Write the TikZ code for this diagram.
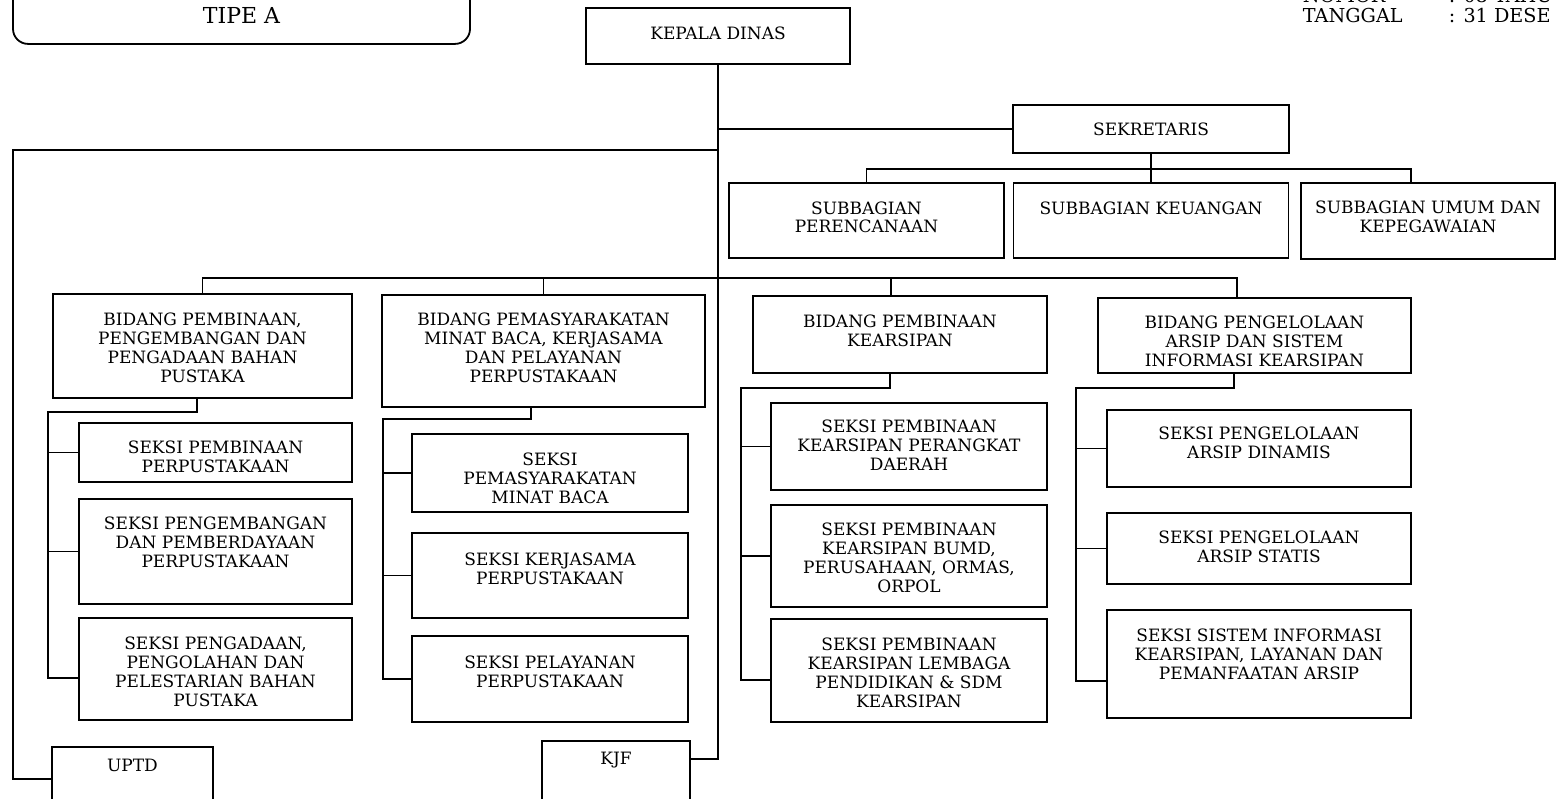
\documentclass[tikz,border=0pt]{standalone}
\usepackage{fontspec}
\setmainfont{DejaVu Serif}
\usetikzlibrary{positioning, calc}

\begin{document}
\begin{tikzpicture}[
        x = 0.5pt, y = -0.5pt,
        line width = 0.9pt,
        box/.style = {draw, rectangle, anchor=north, align=center, inner sep=0pt, font=\fontsize{8.5}{9.4}\selectfont},
        hdr/.style = {anchor=base west, inner sep=0pt, font=\fontsize{9.6}{11}\selectfont},
    ]
        \useasboundingbox (0,0) rectangle (1562,798);
        \clip (0,0) rectangle (1562,798);

        %---- top ----
        \node[box, rounded corners=7.5pt, minimum width=228.5pt, text height=31.5pt, text depth=10pt, font=\fontsize{11}{13}\selectfont] (tipe) at (241.5,-40) {TIPE A};
        \node[box, minimum width=132pt, text height=16pt, text depth=12pt] (kd) at (718,7) {KEPALA DINAS};
        \node[hdr] (nomor) at (1302,2) {NOMOR};
        \node[hdr] (nomorv) at (1448,2) {: 08 TAHU};
        \node[hdr] (tgl) at (1302,22) {TANGGAL};
        \node[hdr] (tglv) at (1448,22) {: 31 DESE};

        %---- sekretariat ----
        \node[box, minimum width=138pt, text height=15.5pt, text depth=8.5pt] (sekr) at (1151,104) {SEKRETARIS};
        \node[box, minimum width=137.5pt, text height=25pt, text depth=12.6pt] (sbp) at (866.5,182) {SUBBAGIAN\\PERENCANAAN};
        \node[box, minimum width=137.5pt, text height=16pt, text depth=21.5pt] (sbk) at (1151,182) {SUBBAGIAN KEUANGAN};
        \node[box, minimum width=127pt, text height=24.9pt, text depth=13.1pt] (sbu) at (1428,182) {SUBBAGIAN UMUM DAN\\KEPEGAWAIAN};

        %---- bidang ----
        \node[box, minimum width=149.5pt, text height=44.2pt, text depth=7.8pt] (bd1) at (202.5,293) {BIDANG PEMBINAAN,\\PENGEMBANGAN DAN\\PENGADAAN BAHAN\\PUSTAKA};
        \node[box, minimum width=161.5pt, text height=43.7pt, text depth=12.3pt] (bd2) at (543.5,294) {BIDANG PEMASYARAKATAN\\MINAT BACA, KERJASAMA\\DAN PELAYANAN\\PERPUSTAKAAN};
        \node[box, minimum width=147pt, text height=25.4pt, text depth=13.1pt] (bd3) at (900,295) {BIDANG PEMBINAAN\\KEARSIPAN};
        \node[box, minimum width=156.5pt, text height=34.3pt, text depth=3.2pt] (bd4) at (1254.5,297) {BIDANG PENGELOLAAN\\ARSIP DAN SISTEM\\INFORMASI KEARSIPAN};

        %---- seksi perpustakaan ----
        \node[box, minimum width=136.5pt, text height=24.9pt, text depth=4.6pt] (s11) at (215.5,422) {SEKSI PEMBINAAN\\PERPUSTAKAAN};
        \node[box, minimum width=136.5pt, text height=34.3pt, text depth=18.2pt] (s12) at (215.5,498) {SEKSI PENGEMBANGAN\\DAN PEMBERDAYAAN\\PERPUSTAKAAN};
        \node[box, minimum width=136.5pt, text height=44.2pt, text depth=6.8pt] (s13) at (215.5,617) {SEKSI PENGADAAN,\\PENGOLAHAN DAN\\PELESTARIAN BAHAN\\PUSTAKA};

        \node[box, minimum width=138pt, text height=34.8pt, text depth=4.2pt] (s21) at (550,433) {SEKSI\\PEMASYARAKATAN\\MINAT BACA};
        \node[box, minimum width=138pt, text height=25.9pt, text depth=16.6pt] (s22) at (550,532) {SEKSI KERJASAMA\\PERPUSTAKAAN};
        \node[box, minimum width=138pt, text height=25.9pt, text depth=17.1pt] (s23) at (550,635) {SEKSI PELAYANAN\\PERPUSTAKAAN};

        %---- seksi kearsipan ----
        \node[box, minimum width=138pt, text height=33.8pt, text depth=9.7pt] (s31) at (909,402) {SEKSI PEMBINAAN\\KEARSIPAN PERANGKAT\\DAERAH};
        \node[box, minimum width=138pt, text height=43.7pt, text depth=7.3pt] (s32) at (909,504) {SEKSI PEMBINAAN\\KEARSIPAN BUMD,\\PERUSAHAAN, ORMAS,\\ORPOL};
        \node[box, minimum width=138pt, text height=44.2pt, text depth=7.3pt] (s33) at (909,618) {SEKSI PEMBINAAN\\KEARSIPAN LEMBAGA\\PENDIDIKAN \& SDM\\KEARSIPAN};

        \node[box, minimum width=152pt, text height=24.4pt, text depth=14.1pt] (s41) at (1259,409) {SEKSI PENGELOLAAN\\ARSIP DINAMIS};
        \node[box, minimum width=152pt, text height=24.9pt, text depth=10.6pt] (s42) at (1259,512) {SEKSI PENGELOLAAN\\ARSIP STATIS};
        \node[box, minimum width=152pt, text height=34.8pt, text depth=19.2pt] (s43) at (1259,609) {SEKSI SISTEM INFORMASI\\KEARSIPAN, LAYANAN DAN\\PEMANFAATAN ARSIP};

        %---- uptd / kjf ----
        \node[box, minimum width=80.5pt, text height=12.5pt, text depth=19.5pt] (uptd) at (132.5,746) {UPTD};
        \node[box, minimum width=74pt, text height=12pt, text depth=33pt] (kjf) at (616,740) {KJF};

        %---- garis komando ----
        \coordinate (lft) at (13,150);
        \coordinate (sbus) at (0,169);
        \coordinate (bbus) at (0,278);
        \coordinate (sbu-in) at ([xshift=-8.5pt]sbu.north);
        \coordinate (bd3-in) at ([xshift=-4.5pt]bd3.north);
        \coordinate (bd4-in) at ([xshift=-8.75pt]bd4.north);

        \draw (kd.south) |- ([yshift=13.5pt]kjf.east);
        \draw (kd.south |- lft) -- (lft) |- (uptd.west);
        \draw (kd.south |- sekr.west) -- (sekr.west);
        \draw (sekr.south) -- (sbk.north);
        \draw (sbp.north) |- (sbu-in |- sbus) -- (sbu-in);
        \draw (bd1.north) |- (bd4-in |- bbus) -- (bd4-in);
        \draw (bd2.north) -- (bd2.north |- bbus);
        \draw (bd3-in) -- (bd3-in |- bbus);

        %---- kolom seksi ----
        \coordinate (c1) at (48,412);
        \coordinate (c2) at (383,419);
        \coordinate (c3) at (741,388);
        \coordinate (c4) at (1076,388);

        \draw ([xshift=-2.75pt]bd1.south) |- (c1) |- ([yshift=-4.5pt]s13.west);
        \draw (c1 |- s11.west) -- (s11.west);
        \draw (c1 |- s12.west) -- (s12.west);

        \draw ([xshift=-6.25pt]bd2.south) |- (c2) |- (s23.west);
        \draw (c2 |- s21.west) -- (s21.west);
        \draw (c2 |- s22.west) -- (s22.west);

        \draw ([xshift=-5pt]bd3.south) |- (c3) |- ([yshift=-4.75pt]s33.west);
        \draw (c3 |- s31.west) -- (s31.west);
        \draw (c3 |- s32.west) -- (s32.west);

        \draw ([xshift=-10.25pt]bd4.south) |- (c4) |- ([yshift=-8.5pt]s43.west);
        \draw (c4 |- s41.west) -- (s41.west);
        \draw (c4 |- s42.west) -- (s42.west);
    \end{tikzpicture}
\end{document}
